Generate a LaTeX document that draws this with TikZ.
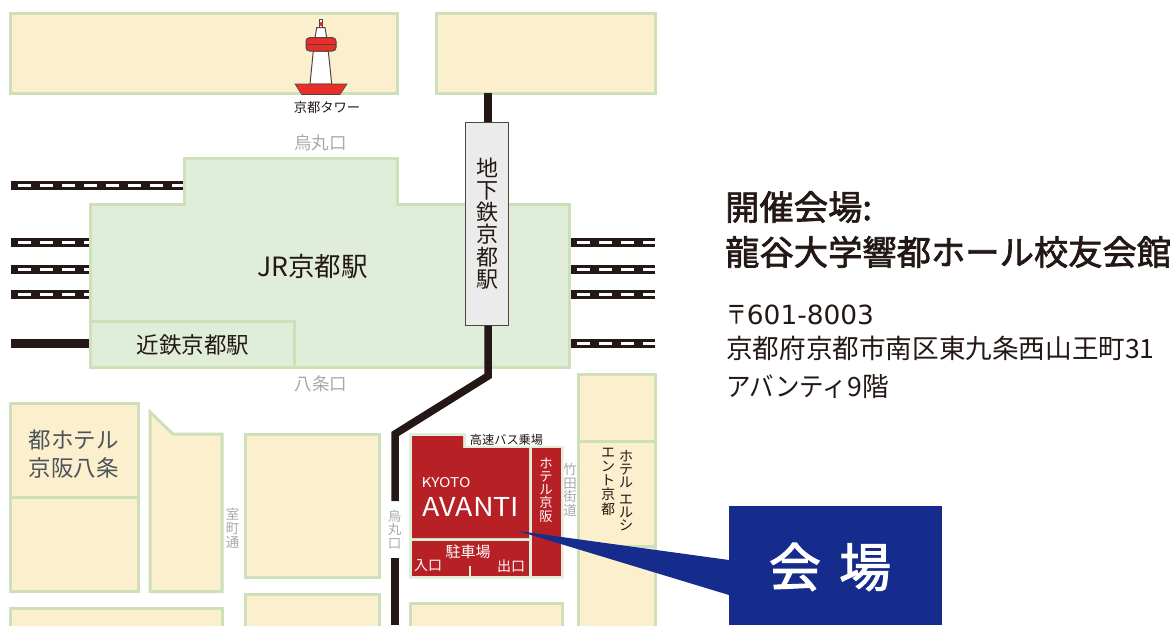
\documentclass[tikz,border=0pt]{standalone}
\usepackage{fontspec}
\setmainfont{Noto Sans CJK JP}
\newfontfamily\medfont[FakeBold=2]{Noto Sans CJK JP}
\newfontfamily\digitfont{DejaVu Sans}
\definecolor{blockfill}{HTML}{FBEFCD}
\definecolor{blockline}{HTML}{CDE0B9}
\definecolor{stationfill}{HTML}{E0EDD9}
\definecolor{ink}{HTML}{231815}
\definecolor{streetgray}{HTML}{A9A9A9}
\definecolor{avantired}{HTML}{B72025}
\definecolor{calloutblue}{HTML}{152C8C}
\definecolor{towerred}{HTML}{E92D28}
\definecolor{hotelslate}{HTML}{4D535C}
\newcommand{\fs}[2]{\fontsize{#1}{#2}\selectfont}
\tikzset{
  blockshape/.style={draw=blockline,fill=blockfill,line width=3pt},
  stationshape/.style={draw=blockline,fill=stationfill,line width=3pt},
  railbase/.style={draw=ink,line width=9pt},
  raildash/.style={draw=white,line width=3pt,dash pattern=on 13pt off 9pt},
  subline/.style={draw=ink,line width=7.5pt,line join=miter},
  towerpart/.style={draw=ink!80,line width=1pt},
  label/.style={inner sep=0pt,align=center,text=ink},
  street/.style={label,text=streetgray},
  whitelabel/.style={label,text=white},
}
\begin{document}
\begin{tikzpicture}[x=1pt,y=-1pt]
\useasboundingbox (0,0) rectangle (1174,625);
% rails
\foreach \y in {242,269,294}{
  \draw[railbase] (11,\y) -- (90,\y);
  \draw[raildash] (18,\y) -- (90,\y);
}
\draw[railbase] (11,185) -- (184,185);
\draw[raildash] (18,185) -- (184,185);
\draw[railbase] (11,343.5) -- (90,343.5);
\foreach \y in {242,269,294,343.5}{
  \draw[railbase] (571,\y) -- (655,\y);
  \draw[raildash] (577,\y) -- (655,\y);
}
% top blocks
\draw[blockshape] (10.5,13) rectangle (397.5,93);
\draw[blockshape] (436.5,13) rectangle (655,93);
% station
\draw[stationshape] (90.5,204) -- (184.5,204) -- (184.5,158) -- (397.5,158) -- (397.5,204) -- (569,204) -- (569,367) -- (90.5,367) -- cycle;
\draw[stationshape,fill=none] (90.5,321) -- (294.5,321) -- (294.5,367);
% lower blocks
\draw[blockshape] (10.5,403) rectangle (138.5,497);
\draw[blockshape] (10.5,497) rectangle (138.5,591.5);
\draw[blockshape] (150,412) -- (173,434) -- (222,434) -- (222,591.5) -- (150,591.5) -- cycle;
\draw[blockshape] (245.5,434.5) rectangle (379,577.5);
\draw[blockshape] (10.5,608) rectangle (222,640);
\draw[blockshape] (245.5,594.5) rectangle (379,640);
\draw[blockshape] (410.5,603.5) rectangle (562,640);
\draw[blockshape] (578,374.5) rectangle (655.5,441);
\draw[blockshape] (578,441) rectangle (655.5,546);
\draw[blockshape] (578,546) rectangle (655.5,640);
% subway
\node[draw=ink!80,fill=black!8,line width=1pt,minimum width=43.5pt,minimum height=203pt,inner sep=0pt] (subway) at (487,223.5) {};
\coordinate (subTop) at (488,93);
\coordinate (subBend) at (488,376);
\coordinate (subKnee) at (395,434);
\coordinate (subGapA) at (395,501);
\coordinate (subGapB) at (395,558);
\coordinate (subEnd) at (395,625);
\draw[subline] (subTop) -- (subway.north -| subTop);
\draw[subline] (subway.south -| subBend) -- (subBend) -- (subKnee) -- (subGapA);
\draw[subline] (subGapB) -- (subEnd);
\node[label,font=\fs{22}{22.2}] (subwaytext) at (487,223.5) {地\\下\\鉄\\京\\都\\駅};
% tower
\draw[towerpart,fill=white] (319,19) rectangle (322.7,27.7);
\fill[towerred] (319.6,22) rectangle (322.1,26);
\draw[towerpart,fill=white] (316.7,27.7) -- (325,27.7) -- (326.7,37.7) -- (315,37.7) -- cycle;
\draw[towerpart,fill=white] (313.3,51) -- (328.3,51) -- (331.7,84) -- (310,84) -- cycle;
\draw[towerpart,fill=towerred,rounded corners=3.5pt] (306,37.7) rectangle (336,51);
\draw[towerpart] (306,44.2) -- (336,44.2);
\draw[draw=ink!80,line width=.6pt,fill=towerred] (295,84) -- (347,84) -- (340,94.5) -- (301.7,94.5) -- cycle;
\node[label,font=\fs{13.3}{13.3}] (towerlabel) at (327,107) {京都タワー};
% station labels
\node[street,font=\fs{17.5}{17.5}] (north) at (320.5,143) {烏丸口};
\node[street,font=\fs{17.5}{17.5}] (south) at (321,384) {八条口};
\node[label,font=\fs{26.5}{26.5}] (jr) at (312.5,266) {JR京都駅};
\node[label,font=\fs{22.5}{22.5}] (kintetsu) at (193,345) {近鉄京都駅};
\node[label,text=hotelslate,font=\fs{22.5}{27.5}] (miyako) at (73.5,454) {都ホテル\\京阪八条};
\node[street,font=\fs{13.5}{13.7}] (muromachi) at (232.5,528.5) {室\\町\\通};
\node[street,font=\fs{13.5}{13.3}] (karasuma) at (394.5,529.5) {烏\\丸\\口};
\node[street,font=\fs{13.5}{13.5}] (takeda) at (570,490) {竹\\田\\街\\道};
% Avanti
\fill[stationfill] (409,433) -- (466,433) -- (466,446) -- (563.5,446) -- (563.5,578.5) -- (409,578.5) -- cycle;
\fill[avantired] (412,436) -- (463,436) -- (463,448) -- (529,448) -- (529,538) -- (412,538) -- cycle;
\fill[avantired] (532,448) rectangle (561,576);
\fill[avantired] (412,541) rectangle (529,576);
\draw[stationfill,line width=1.5pt] (470,566) -- (470,576);
\node[label,font=\fs{12.2}{12.2}] (bus) at (506.5,439.5) {高速バス乗場};
\node[whitelabel,font=\fs{13.5}{13.5}] (kyoto) at (446,482.5) {\scalebox{1.14}[1]{KYOTO}};
\node[whitelabel,font=\fs{26}{26}] (avanti) at (471,507) {\scalebox{1.1}[1]{AVANTI}};
\node[whitelabel,font=\fs{13.3}{13.3}] (keihan) at (546,490) {ホ\\テ\\ル\\京\\阪};
\node[whitelabel,font=\fs{15}{15}] (parking) at (468,552) {駐車場};
\node[whitelabel,font=\fs{14}{14}] (entry) at (428,566) {入口};
\node[whitelabel,font=\fs{14}{14}] (exit) at (511,566) {出口};
\node[label,font=\fs{14}{12.9}] (elcy) at (626,490.5) {ホ\\テ\\ル\\[4pt]エ\\ル\\シ};
\node[label,font=\fs{14}{14.2}] (ent) at (608,481.5) {エ\\ン\\ト\\京\\都};
% callout
\fill[calloutblue] (518,531) -- (729,560) -- (729,595) -- cycle;
\fill[calloutblue] (729,506) rectangle (942,625);
\node[whitelabel,font=\fs{52}{52}\medfont] (venue) at (830,567) {会\hspace{.35em}場};
% address
\node[label,anchor=base west,font=\fs{34.3}{34.3}\medfont] (title1) at (725,220) {開催会場:};
\node[label,anchor=base west,font=\fs{34.3}{34.3}\medfont] (title2) at (725,265) {龍谷大学響都ホール校友会館};
\node[label,anchor=base west,font=\fs{26.6}{26.6}] (addr1) at (726,324) {\scalebox{.78}[1]{〒}{\digitfont\fs{26.4}{26.4}601-8003}};
\node[label,anchor=base west,font=\fs{26.6}{26.6}] (addr2) at (726,358) {京都府京都市南区東九条西山王町31};
\node[label,anchor=base west,font=\fs{26.6}{26.6}] (addr3) at (726,396) {\scalebox{.92}[1]{アバンティ}9階};
\end{tikzpicture}
\end{document}
